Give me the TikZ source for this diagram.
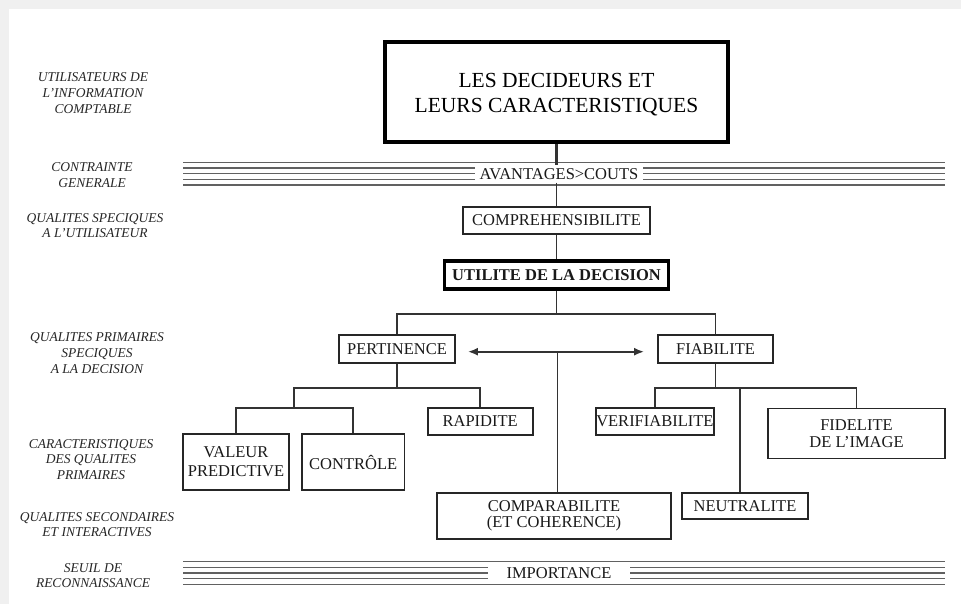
\documentclass[tikz,border=0pt]{standalone}
\usepackage{fontspec}
\setmainfont{Liberation Serif}
\usetikzlibrary{arrows.meta}

\begin{document}
\begin{tikzpicture}[x=1pt,y=-1pt,
  box/.style={draw=black!85, line width=1.9pt, inner sep=0pt, align=center,
    font=\fontsize{16.5}{19}\selectfont, text=black!90},
  heavybox/.style={box, draw=black, line width=3.6pt},
  cat/.style={align=center, inner sep=0pt, text=black!85,
    font=\fontsize{13.5}{15.7}\selectfont\itshape},
  link/.style={draw=black!80, line width=1.8pt},
  rule/.style={draw=black!62, line width=1.3pt},
  barlabel/.style={fill=white, inner sep=0pt, minimum height=17pt,
    font=\fontsize{16.5}{19}\selectfont, text=black!90},
  headtip/.tip={Latex[length=10pt,width=8pt]},
]
\useasboundingbox (0,0) rectangle (961,604);
% page with a soft edge at the top and on the left
\fill[black!6] (0,0) rectangle (961,604);
\fill[white] (9,9) rectangle (961,604);

% the two ruled bands
\foreach \k in {0,...,4} {
  \draw[rule] (183,162.5+5.65*\k) -- (945,162.5+5.65*\k);
  \draw[rule] (183,561.7+5.65*\k) -- (945,561.7+5.65*\k);
}
\node[barlabel, minimum width=168pt] (avc) at (559,174) {AVANTAGES>COUTS};
\node[barlabel, minimum width=142pt] (imp) at (559,573) {IMPORTANCE};

% level captions
\node[cat] (c1) at (93,93)    {UTILISATEURS DE\\L’INFORMATION\\COMPTABLE};
\node[cat] (c2) at (92,175)   {CONTRAINTE\\GENERALE};
\node[cat] (c3) at (95,225.5) {QUALITES SPECIQUES\\A L’UTILISATEUR};
\node[cat] (c4) at (97,353)   {QUALITES PRIMAIRES\\SPECIQUES\\A LA DECISION};
\node[cat] (c5) at (91,459.5) {CARACTERISTIQUES\\DES QUALITES\\PRIMAIRES};
\node[cat] (c6) at (97,524.5) {QUALITES SECONDAIRES\\ET INTERACTIVES};
\node[cat] (c7) at (93,575.5) {SEUIL DE\\RECONNAISSANCE};

% boxes
\node[heavybox, minimum width=343pt, minimum height=100pt] (top) at (556.5,92) {};
\node[align=center, inner sep=0pt, text=black,
  font=\fontsize{21.5}{24.5}\selectfont] (toptext) at (556.5,94.5)
  {LES DECIDEURS ET\\LEURS CARACTERISTIQUES};
\node[box, minimum width=187pt, minimum height=27pt] (compr) at (556.5,220.5) {COMPREHENSIBILITE};
\node[heavybox, line width=3.2pt, minimum width=224pt, minimum height=28pt,
  font=\fontsize{16.5}{19}\selectfont\bfseries] (util) at (556.5,275) {UTILITE DE LA DECISION};
\node[box, minimum width=116pt, minimum height=28pt] (pert) at (397,349) {PERTINENCE};
\node[box, minimum width=115pt, minimum height=28pt] (fiab) at (715.5,349) {FIABILITE};
\node[box, minimum width=105pt, minimum height=27pt] (rap) at (480.2,421.5) {RAPIDITE};
\node[box, minimum width=118pt, minimum height=27pt] (ver) at (654.9,421.5) {VERIFIABILITE};
\node[box, minimum width=177pt, minimum height=50pt,
  font=\fontsize{16.5}{17}\selectfont] (fid) at (856.5,433.5) {FIDELITE\\DE L’IMAGE};
\node[box, minimum width=106pt, minimum height=56pt] (val) at (236,462) {VALEUR\\PREDICTIVE};
\node[box, minimum width=102.5pt, minimum height=56pt] (ctl) at (353.2,462) {CONTRÔLE};
\node[box, minimum width=234pt, minimum height=46pt,
  font=\fontsize{16.5}{16}\selectfont] (comp) at (554,516) {COMPARABILITE\\(ET COHERENCE)};
\node[box, minimum width=126pt, minimum height=26.3pt] (neu) at (745,506.2) {NEUTRALITE};

% connectors
\draw[link, line width=2.8pt] (top.south) -- (top.south |- avc.north);
\draw[link] (top.south |- avc.south) -- (compr.north);
\draw[link] (compr.south) -- (util.north);
\draw[link] (util.south) -- ++(0,23) coordinate (j1);
\draw[link] (pert.north) |- (j1) -| (fiab.north);

\draw[link] (pert.south) -- ++(0,24) coordinate (j2);
\coordinate (j3) at (294,408);
\draw[link] (j3) |- (j2) -| (rap.north);
\draw[link] (val.north) |- (j3) -| (ctl.north);

\draw[link] (fiab.south) -- ++(0,24) coordinate (j4);
\draw[link] (ver.north) |- (j4) -| (fid.north);
\coordinate (j5) at (740,387);
\draw[link] (j5) -- (j5 |- neu.north);

\draw[link, headtip-headtip, shorten <=12pt, shorten >=13pt]
  ([yshift=-2.7pt]pert.east) -- ([yshift=-2.7pt]fiab.west);
\coordinate (mid) at (557.5,351.7);
\draw[link] (mid) -- (mid |- comp.north);
\end{tikzpicture}
\end{document}
